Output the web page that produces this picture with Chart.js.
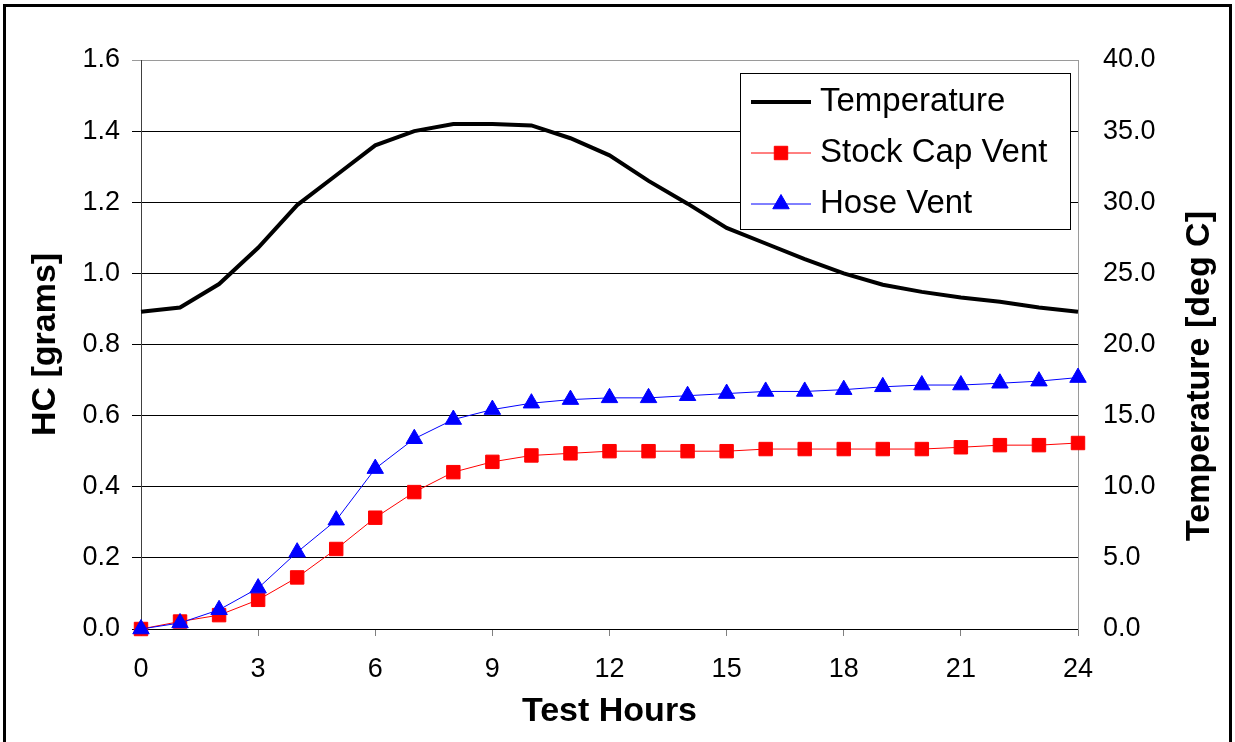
<!DOCTYPE html>
<html><head><meta charset="utf-8">
<script src="https://cdn.jsdelivr.net/npm/chart.js@4.4.1/dist/chart.umd.min.js"></script>
<style>html,body{margin:0;padding:0;background:#fff;overflow:hidden}</style>
</head><body>
<canvas id="c" width="1235" height="742"></canvas>
<script>
// ---- data ----
const hours = [0,1,2,3,4,5,6,7,8,9,10,11,12,13,14,15,16,17,18,19,20,21,22,23,24];
const temperature = [22.3,22.6,24.25,26.8,29.8,31.9,34.0,35.0,35.5,35.5,35.4,34.5,33.3,31.5,29.9,28.2,27.1,26.0,25.0,24.2,23.7,23.3,23.0,22.6,22.3];
const stockCapVent = [0,0.021,0.039,0.082,0.145,0.225,0.313,0.385,0.441,0.470,0.488,0.494,0.500,0.500,0.500,0.500,0.506,0.506,0.506,0.506,0.506,0.511,0.517,0.517,0.523];
const hoseVent = [0,0.017,0.054,0.115,0.216,0.306,0.451,0.535,0.589,0.617,0.635,0.645,0.650,0.650,0.656,0.662,0.668,0.668,0.673,0.681,0.686,0.686,0.691,0.697,0.707];
const seriesNames = ['Temperature','Stock Cap Vent','Hose Vent'];
const xTitle = 'Test Hours';
const yTitle = 'HC [grams]';
const y2Title = 'Temperature [deg C]';

const FONT = '"Liberation Sans", Arial, sans-serif';
const pts = arr => hours.map((h,i)=>({x:h, y:arr[i]}));

function drawMarker(ctx, style, x, y, r, color){
  ctx.fillStyle = color; ctx.strokeStyle = color; ctx.lineWidth = 1;
  ctx.beginPath();
  if (style === 'rect'){
    const s = Math.SQRT1_2 * r;
    ctx.rect(x - s, y - s, 2*s, 2*s);
  } else if (style === 'triangle'){
    ctx.moveTo(x, y - r);
    ctx.lineTo(x + Math.sin(2*Math.PI/3)*r, y + r/2);
    ctx.lineTo(x - Math.sin(2*Math.PI/3)*r, y + r/2);
    ctx.closePath();
  }
  ctx.fill(); ctx.stroke();
}

const decor = {
  id: 'decor',
  afterDraw(chart){
    const ctx = chart.ctx;
    ctx.save();
    // outer frame
    ctx.strokeStyle = '#000'; ctx.lineWidth = 3;
    ctx.strokeRect(4.5, 5.5, 1226, 800);
    // right axis title (reads bottom to top)
    ctx.save();
    ctx.translate(1200, 376);
    ctx.rotate(-Math.PI/2);
    ctx.font = 'bold 34px ' + FONT;
    ctx.textAlign = 'center'; ctx.textBaseline = 'middle'; ctx.fillStyle = '#000';
    ctx.fillText(y2Title, 0, 0);
    ctx.restore();
    // legend
    const lx = 740, ly = 73, lw = 330, lh = 156;
    ctx.fillStyle = '#fff'; ctx.fillRect(lx, ly, lw, lh);
    ctx.strokeStyle = '#000'; ctx.lineWidth = 1; ctx.strokeRect(lx + 0.5, ly + 0.5, lw, lh);
    const rows = [102, 153, 204];
    chart.data.datasets.forEach((ds, i) => {
      const y = rows[i];
      ctx.strokeStyle = ds.borderColor; ctx.lineWidth = ds.borderWidth;
      ctx.beginPath(); ctx.moveTo(751, y); ctx.lineTo(811, y); ctx.stroke();
      if (ds.pointRadius > 0) drawMarker(ctx, ds.pointStyle, 781, y, ds.pointRadius, ds.backgroundColor);
      ctx.fillStyle = '#000'; ctx.font = '33px ' + FONT;
      ctx.textAlign = 'left'; ctx.textBaseline = 'middle';
      ctx.fillText(ds.label, 820, y);
    });
    ctx.restore();
  }
};

new Chart(document.getElementById('c'), {
  type: 'line',
  data: {
    datasets: [
      {label: seriesNames[0], data: pts(temperature), yAxisID: 'y2', borderColor: '#000000', backgroundColor: '#000000', borderWidth: 4, pointRadius: 0, tension: 0, order: 3, clip: false},
      {label: seriesNames[1], data: pts(stockCapVent), yAxisID: 'y', borderColor: '#ff0000', backgroundColor: '#ff0000', borderWidth: 1, pointStyle: 'rect', pointRadius: 9.5, pointBorderWidth: 1, tension: 0, order: 2, clip: false},
      {label: seriesNames[2], data: pts(hoseVent), yAxisID: 'y', borderColor: '#0000ff', backgroundColor: '#0000ff', borderWidth: 1, pointStyle: 'triangle', pointRadius: 9.5, pointBorderWidth: 1, tension: 0, order: 1, clip: false}
    ]
  },
  options: {
    responsive: false, animation: false, events: [],
    layout: {padding: {top: 60, left: 0, right: 0, bottom: 0}},
    plugins: {legend: {display: false}, tooltip: {enabled: false}},
    scales: {
      x: {
        type: 'linear', position: 'bottom', min: 0, max: 24,
        ticks: {stepSize: 3, color: '#000', font: {family: FONT, size: 27}, padding: 17, maxRotation: 0},
        grid: {drawOnChartArea: false, tickLength: 7, color: '#808080'},
        border: {color: '#000', width: 1},
        title: {display: true, text: xTitle, color: '#000', font: {family: FONT, size: 34, weight: 'bold'}, padding: {top: 0, bottom: 10}},
        afterFit(s){ s.height = 113; }
      },
      y: {
        position: 'left', min: 0, max: 1.6,
        ticks: {stepSize: 0.2, color: '#000', font: {family: FONT, size: 27}, padding: 12, callback: v => Number(v).toFixed(1)},
        grid: {color: c => c.index === 8 ? '#9a9a9a' : '#000', tickLength: 9, lineWidth: 1},
        border: {color: '#404040', width: 1},
        title: {display: true, text: yTitle, color: '#000', font: {family: FONT, size: 34, weight: 'bold'}, padding: {top: 25, bottom: 0}},
        afterFit(s){ s.width = 141; }
      },
      y2: {
        position: 'right', min: 0, max: 40,
        ticks: {stepSize: 5, color: '#000', font: {family: FONT, size: 27}, padding: 25, callback: v => Number(v).toFixed(1)},
        grid: {drawOnChartArea: false, drawTicks: false},
        border: {color: '#9a9a9a', width: 1},
        afterFit(s){ s.width = 157; }
      }
    }
  },
  plugins: [decor]
});
</script>
</body></html>
